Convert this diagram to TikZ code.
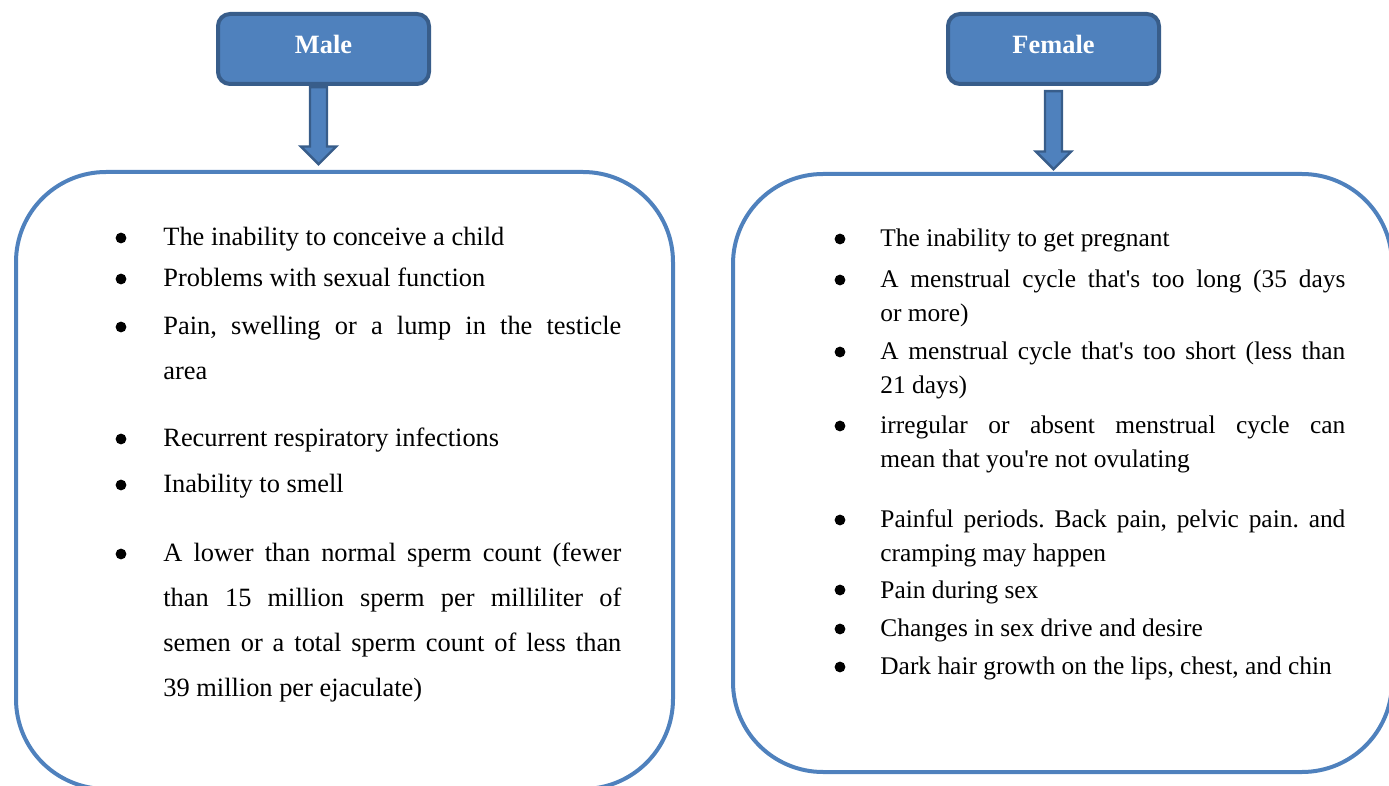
\documentclass[tikz,border=0pt]{standalone}
\usepackage{fontspec}
\setmainfont{Liberation Serif}
\usetikzlibrary{shapes.arrows,positioning}

\definecolor{headfill}{HTML}{4F81BD}
\definecolor{headline}{HTML}{385D8A}
\definecolor{boxline}{HTML}{4F81BD}

\begin{document}
\frenchspacing
\begin{tikzpicture}[x=0.5pt,y=-0.5pt,
    head node/.style={rectangle,rounded corners=6pt,draw=headline,fill=headfill,line width=2pt,minimum width=105.5pt,minimum height=35pt,inner sep=0pt,text=white,text height=9pt,text depth=4pt,font=\bfseries\fontsize{13.2}{15}\selectfont},
    down arrow/.style={single arrow,draw=headline,fill=headfill,line width=1.2pt,inner sep=3.65pt,single arrow head extend=4.6pt,single arrow head indent=0pt,rotate=-90,anchor=tail},
    list box/.style={rectangle,draw=boxline,line width=2pt,rounded corners=45pt,inner sep=0pt},
    bullet node/.style={circle,fill=black,inner sep=0pt,minimum size=5.4pt},
    male item/.style={anchor=base west,inner sep=0pt,text width=229pt,align=justify,font=\fontsize{13.2}{22.5}\selectfont},
    female item/.style={anchor=base west,inner sep=0pt,text width=232.5pt,align=justify,font=\fontsize{12.7}{16.75}\selectfont}]

    \useasboundingbox (0,0) rectangle (1389,786);

    \node[head node] (male) at (323.5,49) {Male};
    \node[head node] (female) [right=257.5pt of male] {Female};

    \node[list box,minimum width=328.5pt,minimum height=308.5pt] (malebox) at (344.5,480.5) {};
    \node[list box,minimum width=329.5pt,minimum height=299pt] (femalebox) at (1062.5,473) {};

    \node[down arrow,minimum height=38.5pt] (malearrow) at ([xshift=-2.5pt]male.south) {};
    \node[down arrow,minimum height=39pt] (femalearrow) at ([yshift=-2pt]female.south) {};

    % male list
    \foreach \yb/\txt [count=\i] in {
        246/{The inability to conceive a child},
        287/{Problems with sexual function},
        335/{Pain, swelling or a lump in the testicle\linebreak area},
        447/{Recurrent respiratory infections},
        493/{Inability to smell},
        562/{A lower than normal sperm count (fewer\linebreak than 15 million sperm per milliliter of\linebreak semen or a total sperm count of less than\linebreak 39 million per ejaculate)}}{
        \node[bullet node] (mbul\i) at (121,\yb-8) {};
        \node[male item] (mitem\i) at (163,\yb) {\txt};
    }

    % female list
    \foreach \yb/\txt [count=\i] in {
        247/{The inability to get pregnant},
        288/{A menstrual cycle that\textquotesingle s too long (35 days\linebreak or more)},
        360/{A menstrual cycle that\textquotesingle s too short (less than\linebreak 21 days)},
        434/{irregular or absent menstrual cycle can\linebreak mean that you\textquotesingle re not ovulating},
        528/{Painful periods. Back pain, pelvic pain. and\linebreak cramping may happen},
        598/{Pain during sex},
        637/{Changes in sex drive and desire},
        675/{Dark hair growth on the lips, chest, and chin}}{
        \node[bullet node] (fbul\i) at (840,\yb-8) {};
        \node[female item] (fitem\i) at (880,\yb) {\txt};
    }

\end{tikzpicture}
\end{document}
